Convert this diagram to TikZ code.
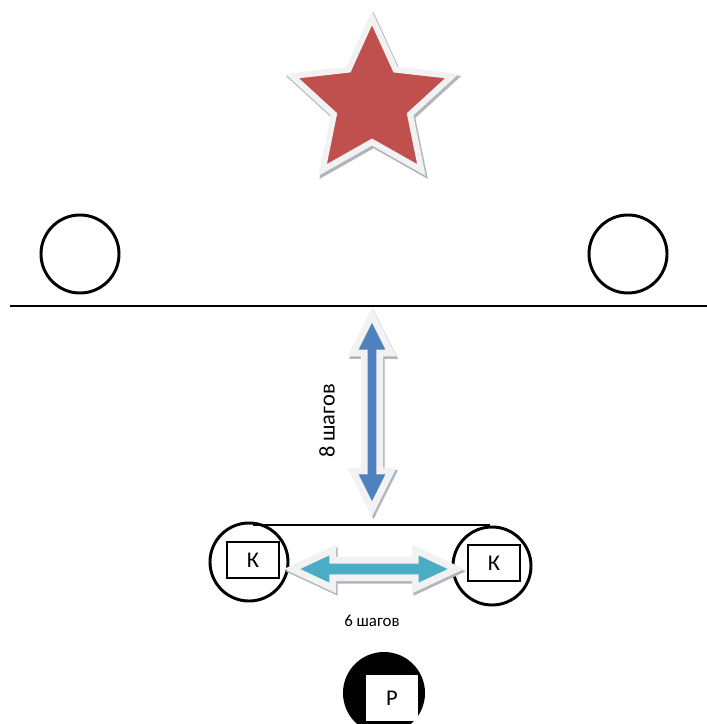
\documentclass[tikz,border=0pt]{standalone}
\usepackage{fontspec}
\setmainfont{Carlito}
\usetikzlibrary{shapes.geometric}
\usetikzlibrary{shapes.arrows}
\definecolor{starred}{RGB}{192,80,77}
\definecolor{stepblue}{RGB}{79,129,189}
\definecolor{stepteal}{RGB}{75,172,198}
\definecolor{rimgray}{RGB}{242,242,242}
\definecolor{shadegray}{RGB}{175,182,190}
\tikzstyle{shaded} = [preaction={draw=shadegray, line width=0.17cm, transform canvas={shift={(0.04cm,-0.06cm)}}}]
\tikzstyle{redstar} = [star, star points=5, star point ratio=2.1, minimum size=4.2cm, inner sep=0pt, fill=starred, draw=rimgray, line width=0.15cm, shaded]
\tikzstyle{ring} = [draw, circle, line width=2.1pt, minimum size=1.95cm, inner sep=0pt]
\tikzstyle{playerbox} = [draw, rectangle, line width=0.8pt, minimum width=1.3cm, minimum height=0.9cm, inner sep=0pt, font=\fontsize{16}{18}\selectfont]
\tikzstyle{steparrow} = [double arrow, draw=rimgray, line width=0.17cm, double arrow tip angle=53, minimum width=0.95cm, inner sep=0pt, shaded]

\begin{document}
\begin{tikzpicture}[x=0.025cm, y=-0.025cm]
  \useasboundingbox (0,0) rectangle (707,724);

  \node[redstar] (star) at (372,102) {};

  \node[ring] (posL) at (80,254) {};
  \node[ring] (posR) at (628,254) {};
  \coordinate (fieldL) at (10,306);
  \coordinate (fieldR) at (707,306);
  \draw[line width=0.9pt] (fieldL) -- (fieldR);

  \node[steparrow, fill=stepblue, rotate=90, minimum height=4.85cm, double arrow head extend=0.125cm] (go8) at (372,412) {};
  \node[rotate=90, font=\fontsize{16}{18}\selectfont] (lbl8) at (327,421) {8 шагов};

  \node[ring] (kL) at (249,562) {};
  \node[ring] (kR) at (492,566) {};
  \node[playerbox] (boxL) at (253,560) {К};
  \node[playerbox] (boxR) at (494,563) {К};
  \coordinate (lineL) at (253,525);
  \coordinate (lineR) at (490,525);
  \draw[line width=0.9pt] (lineL) -- (lineR);

  \node[steparrow, fill=stepteal, minimum height=4.1cm, double arrow head extend=0.1cm, double arrow tip angle=50] (go6) at (374,569) {};
  \node[font=\fontsize{12}{14}\selectfont] (lbl6) at (372,621) {6 шагов};

  \node[circle, fill=black, minimum size=2.05cm, inner sep=0pt] (ref) at (384,693) {};
  \node[rectangle, fill=white, minimum width=1.275cm, minimum height=1.15cm, inner sep=0pt, font=\fontsize{16}{18}\selectfont] (refbox) at (392,698) {Р};
\end{tikzpicture}
\end{document}
